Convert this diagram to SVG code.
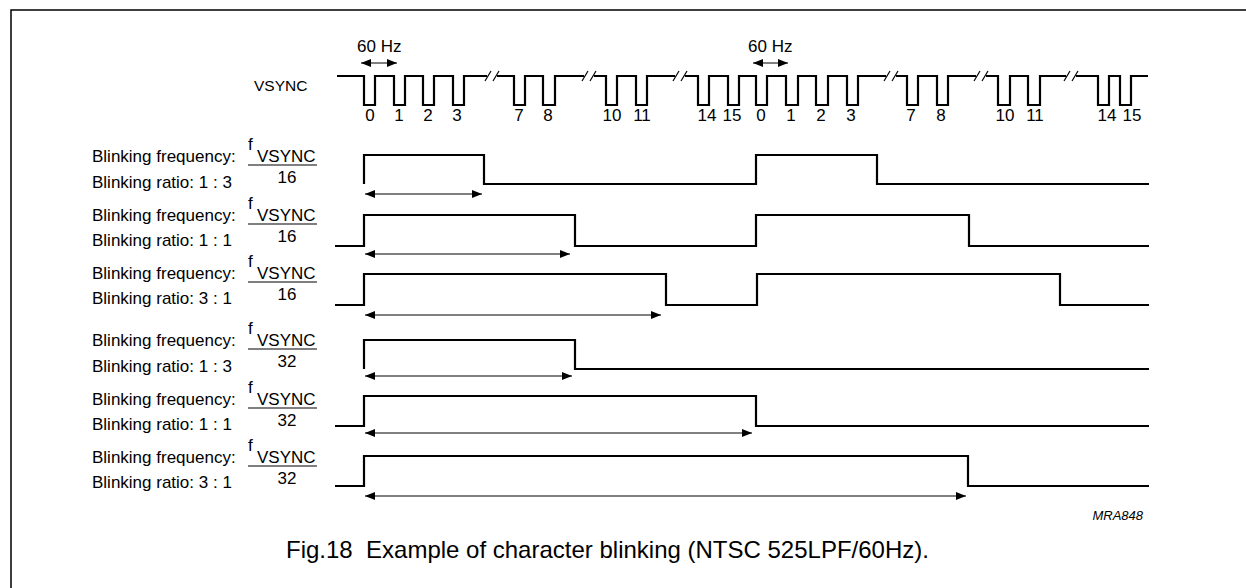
<svg xmlns="http://www.w3.org/2000/svg" width="1246" height="588" viewBox="0 0 1246 588">
<style>
text{font-family:"Liberation Sans",Arial,sans-serif;font-size:17px;fill:#000}
.w{fill:none;stroke:#000;stroke-width:2.2;stroke-linejoin:miter}
.a{fill:none;stroke:#000;stroke-width:1;marker-start:url(#ah);marker-end:url(#ah)}
.s{stroke:#000;stroke-width:1.2}
.fl{stroke:#000;stroke-width:1.2}
.cap{font-size:24px}
.id{font-size:13px;font-style:italic}
.lbl{font-size:15.5px}
</style>
<defs>
<marker id="ah" viewBox="0 0 10 8" refX="10" refY="4" markerWidth="10" markerHeight="8" markerUnits="userSpaceOnUse" orient="auto-start-reverse">
<path d="M0,0 L10,4 L0,8 Z" fill="#000"/>
</marker>
</defs>
<rect width="1246" height="588" fill="#fff"/>
<path d="M11,588 V10 H1246" fill="none" stroke="#000" stroke-width="1.5"/>

<g id="vsync">
<text class="lbl" x="254" y="91">VSYNC</text>
<path class="w" d="M337,76 H364 V105 H375 V76 H394 V105 H405 V76 H423 V105 H434 V76 H453 V105 H464 V76 H487 M497,76 H514 V105 H525 V76 H543 V105 H555 V76 H584 M594,76 H606 V105 H617 V76 H636 V105 H647 V76 H675 M685,76 H698 V105 H709 V76 H728 V105 H739 V76 H756 V105 H767 V76 H786 V105 H798 V76 H816 V105 H828 V76 H847 V105 H858 V76 H886 M896,76 H907 V105 H918 V76 H937 V105 H948 V76 H976 M986,76 H998 V105 H1010 V76 H1028 V105 H1040 V76 H1066 M1076,76 H1098 V105 H1109 V76 H1120 V105 H1131 V76 H1148"/>
<path class="s" d="M485,81 L491,71 M493,81 L499,71 M582,81 L588,71 M590,81 L596,71 M673,81 L679,71 M681,81 L687,71 M884,81 L890,71 M892,81 L898,71 M974,81 L980,71 M982,81 L988,71 M1064,81 L1070,71 M1072,81 L1078,71"/>
<g text-anchor="middle">
<text x="370" y="121">0</text><text x="399" y="121">1</text><text x="428" y="121">2</text><text x="457" y="121">3</text>
<text x="519" y="121">7</text><text x="548" y="121">8</text><text x="612" y="121">10</text><text x="642" y="121">11</text>
<text x="707" y="121">14</text><text x="732" y="121">15</text>
<text x="761" y="121">0</text><text x="791" y="121">1</text><text x="821" y="121">2</text><text x="851" y="121">3</text>
<text x="911" y="121">7</text><text x="941" y="121">8</text><text x="1005" y="121">10</text><text x="1035" y="121">11</text>
<text x="1107" y="121">14</text><text x="1132" y="121">15</text>
</g>
<text x="357" y="52">60 Hz</text>
<text x="748" y="52">60 Hz</text>
</g>

<g id="row1">
<text x="92" y="162">Blinking frequency:</text>
<text x="92" y="188">Blinking ratio: 1 : 3</text>
<text x="248" y="150">f</text><text x="257" y="162">VSYNC</text>
<line class="fl" x1="248" y1="165" x2="317" y2="165"/>
<text x="287" y="183" text-anchor="middle">16</text>
<path class="w" d="M364,184 V155 H484 V184 H756 V155 H877 V184 H1149"/>
</g>
<g id="row2">
<text x="92" y="221">Blinking frequency:</text>
<text x="92" y="246">Blinking ratio: 1 : 1</text>
<text x="248" y="209">f</text><text x="257" y="221">VSYNC</text>
<line class="fl" x1="248" y1="224" x2="317" y2="224"/>
<text x="287" y="242" text-anchor="middle">16</text>
<path class="w" d="M335,246 H364 V215 H575 V246 H756 V215 H969 V246 H1149"/>
</g>
<g id="row3">
<text x="92" y="279">Blinking frequency:</text>
<text x="92" y="304">Blinking ratio: 3 : 1</text>
<text x="248" y="267">f</text><text x="257" y="279">VSYNC</text>
<line class="fl" x1="248" y1="282" x2="317" y2="282"/>
<text x="287" y="300" text-anchor="middle">16</text>
<path class="w" d="M335,305 H364 V274 H666 V305 H757 V274 H1060 V305 H1149"/>
</g>
<g id="row4">
<text x="92" y="346">Blinking frequency:</text>
<text x="92" y="372">Blinking ratio: 1 : 3</text>
<text x="248" y="334">f</text><text x="257" y="346">VSYNC</text>
<line class="fl" x1="248" y1="349" x2="317" y2="349"/>
<text x="287" y="367" text-anchor="middle">32</text>
<path class="w" d="M364,369 V340 H575 V369 H1149"/>
</g>
<g id="row5">
<text x="92" y="405">Blinking frequency:</text>
<text x="92" y="430">Blinking ratio: 1 : 1</text>
<text x="248" y="393">f</text><text x="257" y="405">VSYNC</text>
<line class="fl" x1="248" y1="408" x2="317" y2="408"/>
<text x="287" y="426" text-anchor="middle">32</text>
<path class="w" d="M335,426 H364 V396 H756 V426 H1149"/>
</g>
<g id="row6">
<text x="92" y="463">Blinking frequency:</text>
<text x="92" y="488">Blinking ratio: 3 : 1</text>
<text x="248" y="451">f</text><text x="257" y="463">VSYNC</text>
<line class="fl" x1="248" y1="466" x2="317" y2="466"/>
<text x="287" y="484" text-anchor="middle">32</text>
<path class="w" d="M335,486 H364 V456 H968 V486 H1149"/>
</g>

<g id="connectors">
<line class="a" x1="361" y1="63" x2="397" y2="63"/>
<line class="a" x1="753" y1="63" x2="788" y2="63"/>
<line class="a" x1="365" y1="194" x2="482" y2="194"/>
<line class="a" x1="365" y1="254" x2="570" y2="254"/>
<line class="a" x1="365" y1="315" x2="661" y2="315"/>
<line class="a" x1="365" y1="376" x2="572" y2="376"/>
<line class="a" x1="365" y1="433" x2="752" y2="433"/>
<line class="a" x1="365" y1="496" x2="966" y2="496"/>
</g>

<text class="id" x="1143" y="520" text-anchor="end">MRA848</text>
<text class="cap" x="286" y="558" xml:space="preserve">Fig.18  Example of character blinking (NTSC 525LPF/60Hz).</text>
</svg>
